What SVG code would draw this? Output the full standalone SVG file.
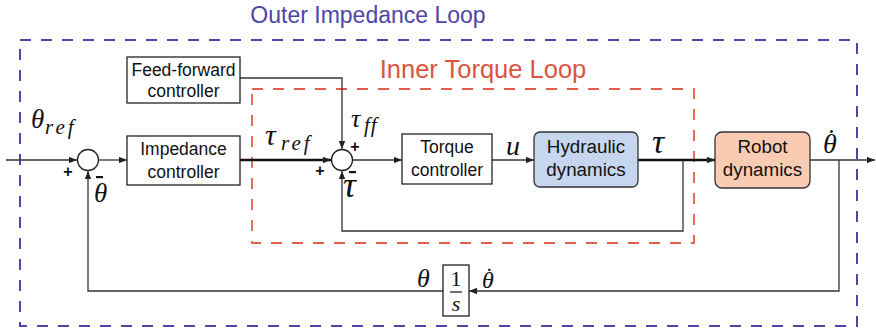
<svg xmlns="http://www.w3.org/2000/svg" width="876" height="332" viewBox="0 0 876 332">
  <defs>
    <marker id="arrow" viewBox="0 0 10 8" refX="10" refY="4" markerWidth="8" markerHeight="6.4" markerUnits="userSpaceOnUse" orient="auto">
      <path d="M0,0 L10,4 L0,8 Z" fill="#222"/>
    </marker>
    <style>
      .box { fill: #fff; stroke: #222; stroke-width: 1.3; }
      .lbl { font-family: "Liberation Sans", Arial, sans-serif; font-size: 17.5px; fill: #111; text-anchor: middle; }
      .lbl-big { font-family: "Liberation Sans", Arial, sans-serif; font-size: 18.8px; fill: #111; text-anchor: middle; }
      .wire { fill: none; stroke: #333; stroke-width: 1.3; }
      .thick { fill: none; stroke: #111; stroke-width: 2.6; }
      .math { font-family: "Liberation Serif", "Times New Roman", serif; font-style: italic; fill: #111; }
      .sub { font-family: "Liberation Serif", "Times New Roman", serif; font-style: italic; fill: #111; font-size: 21px; letter-spacing: 3px; }
      .num { font-family: "Liberation Serif", "Times New Roman", serif; font-style: normal; fill: #111; }
      .dot { font-style: normal; }
      .sign { font-family: "Liberation Sans", Arial, sans-serif; font-weight: bold; font-size: 16px; fill: #111; text-anchor: middle; }
      .sum { fill: #fff; stroke: #222; stroke-width: 1.3; }
    </style>
  </defs>

  <!-- loop frames -->
  <g id="outer-loop">
    <rect x="20" y="40" width="837" height="286" fill="none" stroke="#4d45a8" stroke-width="2" stroke-dasharray="11 10"/>
    <text x="368" y="23" font-family="Liberation Sans, Arial, sans-serif" font-size="23" fill="#4d45a8" text-anchor="middle">Outer Impedance Loop</text>
  </g>
  <g id="inner-loop">
    <rect x="252" y="89" width="442" height="154" fill="none" stroke="#e0604a" stroke-width="1.8" stroke-dasharray="11 10"/>
    <text x="483" y="78" font-family="Liberation Sans, Arial, sans-serif" font-size="25.5" fill="#d9553e" text-anchor="middle">Inner Torque Loop</text>
  </g>

  <!-- connectors -->
  <g id="connectors">
    <line class="wire" x1="6" y1="160" x2="77" y2="160" marker-end="url(#arrow)"/>
    <line class="wire" x1="99" y1="160" x2="127" y2="160" marker-end="url(#arrow)"/>
    <line class="thick" x1="240" y1="160" x2="331" y2="160" marker-end="url(#arrow)"/>
    <polyline class="wire" points="240,78 342,78 342,149" marker-end="url(#arrow)"/>
    <line class="wire" x1="353" y1="160" x2="402" y2="160" marker-end="url(#arrow)"/>
    <line class="wire" x1="492" y1="160" x2="534" y2="160" marker-end="url(#arrow)"/>
    <line class="thick" x1="638" y1="160" x2="715" y2="160" marker-end="url(#arrow)"/>
    <polyline class="wire" points="683,160 683,231 342,231 342,171" marker-end="url(#arrow)"/>
    <line class="wire" x1="810" y1="160" x2="875" y2="160" marker-end="url(#arrow)"/>
    <polyline class="wire" points="839,160 839,291 469,291" marker-end="url(#arrow)"/>
    <polyline class="wire" points="443,291 88,291 88,171" marker-end="url(#arrow)"/>
  </g>

  <!-- summing junctions -->
  <g id="sum-outer">
    <circle class="sum" cx="88" cy="160" r="10.5"/>
    <text class="sign" x="68" y="177">+</text>
    <rect x="96" y="176" width="7" height="2.2" fill="#111"/>
  </g>
  <g id="sum-inner">
    <circle class="sum" cx="342" cy="160" r="10.5"/>
    <text class="sign" x="355" y="152">+</text>
    <text class="sign" x="320" y="176">+</text>
    <rect x="349" y="171" width="7" height="2.2" fill="#111"/>
  </g>

  <!-- blocks -->
  <g id="feedforward">
    <rect class="box" x="127" y="57" width="113" height="46"/>
    <text class="lbl" x="183.5" y="76">Feed-forward</text>
    <text class="lbl" x="183.5" y="97">controller</text>
  </g>
  <g id="impedance">
    <rect class="box" x="127" y="136" width="113" height="49"/>
    <text class="lbl" x="183.5" y="155">Impedance</text>
    <text class="lbl" x="183.5" y="178">controller</text>
  </g>
  <g id="torque">
    <rect class="box" x="402" y="134" width="90" height="50"/>
    <text class="lbl" x="447" y="153">Torque</text>
    <text class="lbl" x="447" y="176">controller</text>
  </g>
  <g id="hydraulic">
    <rect x="534" y="132" width="104" height="55" rx="6" fill="#c6d6ee" stroke="#333" stroke-width="1.3"/>
    <text class="lbl-big" x="586" y="153">Hydraulic</text>
    <text class="lbl-big" x="586" y="176">dynamics</text>
  </g>
  <g id="robot">
    <rect x="715" y="132" width="95" height="56" rx="7" fill="#f9cbb2" stroke="#333" stroke-width="1.3"/>
    <text class="lbl-big" x="762.5" y="153">Robot</text>
    <text class="lbl-big" x="762.5" y="176">dynamics</text>
  </g>
  <g id="integrator">
    <rect class="box" x="443" y="265" width="26" height="51"/>
    <text class="num" x="456" y="286" font-size="22" text-anchor="middle">1</text>
    <line x1="450" y1="292" x2="462" y2="292" stroke="#111" stroke-width="1.2"/>
    <text class="math" x="456" y="311" font-size="22" text-anchor="middle">s</text>
  </g>

  <!-- signal labels -->
  <g id="labels">
    <text class="math" x="31" y="128" font-size="27">θ</text>
    <text class="sub" x="45" y="134">ref</text>

    <text class="math" x="94" y="202" font-size="27">θ</text>

    <text class="math" x="265" y="145" font-size="30">τ</text>
    <text class="sub" x="281" y="150">ref</text>

    <text class="math" x="351" y="127" font-size="26">τ</text>
    <text class="sub" x="364" y="132" style="letter-spacing:1px">ff</text>

    <text class="math" x="343" y="197" font-size="36">τ</text>

    <text class="math" x="506" y="155" font-size="28">u</text>
    <text class="math" x="652" y="153" font-size="34">τ</text>

    <!-- theta-dot: dot shifted back over the theta -->
    <text class="math" x="823" y="153" font-size="28">θ<tspan class="dot" dx="-10" dy="-5">˙</tspan></text>

    <text class="math" x="417" y="287" font-size="26">θ</text>
    <text class="math" x="482" y="288" font-size="24">θ<tspan class="dot" dx="-8.5" dy="-4">˙</tspan></text>
  </g>
</svg>
